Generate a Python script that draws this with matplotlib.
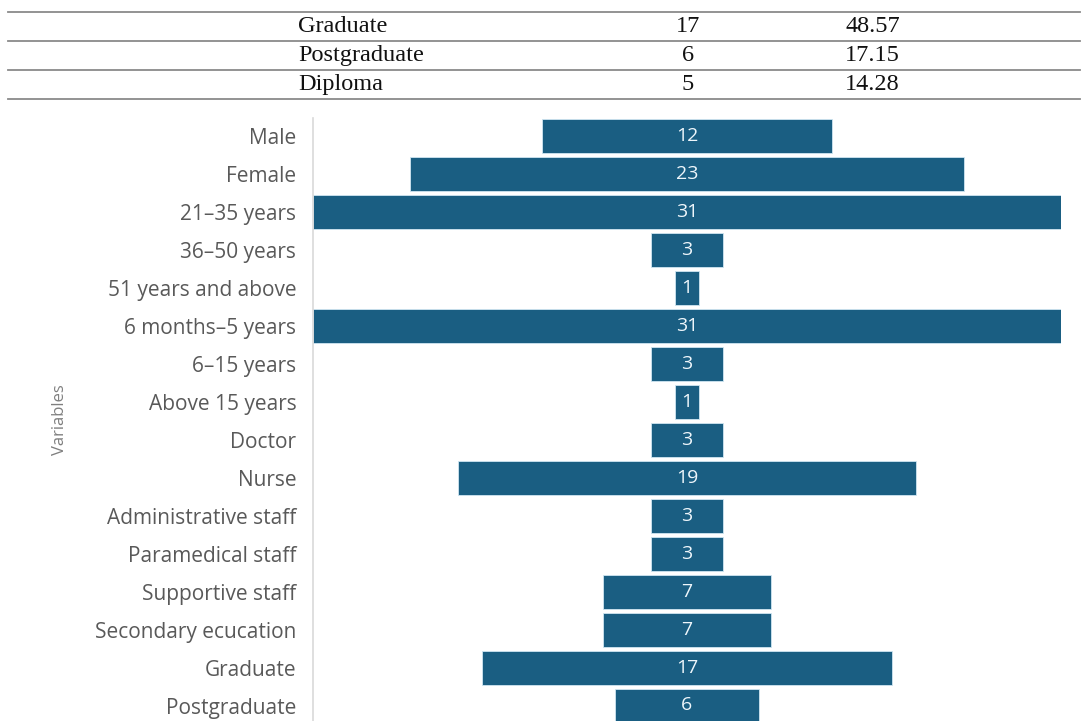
import matplotlib
matplotlib.use("Agg")
import matplotlib.pyplot as plt
from matplotlib.lines import Line2D

# Tail of the summary table printed above the figure
table_labels = ["Graduate", "Postgraduate", "Diploma"]
table_counts = [17, 6, 5]
table_percent = [48.57, 17.15, 14.28]

# Funnel chart: respondent characteristics
categories = [
    "Male", "Female", "21\u201335 years", "36\u201350 years", "51 years and above",
    "6 months\u20135 years", "6\u201315 years", "Above 15 years", "Doctor", "Nurse",
    "Administrative staff", "Paramedical staff", "Supportive staff",
    "Secondary ecucation", "Graduate", "Postgraduate",
]
counts = [12, 23, 31, 3, 1, 31, 3, 1, 3, 19, 3, 3, 7, 7, 17, 6]

W, H = 1090, 721
fig = plt.figure(figsize=(W / 100, H / 100), dpi=100)
fig.patch.set_facecolor("white")

# ---- table rows ----
rule_y = [12, 40.5, 70, 99]
for y in rule_y:
    fig.add_artist(Line2D([8 / W, 1080 / W], [1 - y / H, 1 - y / H],
                          transform=fig.transFigure, color="#8a8a8a", lw=1.3))
serif = dict(family="Liberation Serif", fontsize=17.5, color="#111111", va="center")
for i, (lab, n, p) in enumerate(zip(table_labels, table_counts, table_percent)):
    yc = 1 - (rule_y[i] + rule_y[i + 1]) / 2 / H
    fig.text(298 / W, yc, lab, ha="left", **serif)
    fig.text(688 / W, yc, f"{n}", ha="center", **serif)
    fig.text(845 / W, yc, f"{p:.2f}", ha="left", **serif)

# ---- funnel chart ----
ax_top, ax_left, ax_right = 118, 313, 1061
ax = fig.add_axes([ax_left / W, 0, (ax_right - ax_left) / W, (H - ax_top) / H])
half = max(counts) / 2
ypos = list(range(len(categories)))
bars = ax.barh(ypos, counts, left=[-c / 2 for c in counts], height=0.9,
               color="#1a5e82", edgecolor="#cfe6f2", linewidth=0.6)
ax.bar_label(bars, labels=[str(c) for c in counts], label_type="center",
             color="#eef6fb", fontsize=14, family="Open Sans", fontweight="medium")

ax.set_xlim(-half, half)
ax.set_ylim(len(categories) - 1 + 15 / 38, -18 / 38)
ax.set_yticks(ypos)
ax.set_yticklabels(categories, fontsize=15, family="Open Sans", color="#595959")
ax.tick_params(axis="y", length=0, pad=12)
ax.set_xticks([])
for side in ("top", "right", "bottom"):
    ax.spines[side].set_visible(False)
ax.spines["left"].set_color("#d9d9d9")
ax.spines["left"].set_linewidth(1.2)
ax.set_ylabel("Variables", fontsize=12, family="Open Sans", color="#7f7f7f")
ax.yaxis.set_label_coords((68 - ax_left) / (ax_right - ax_left), 0.5)

fig.savefig("out.png", dpi=100)
